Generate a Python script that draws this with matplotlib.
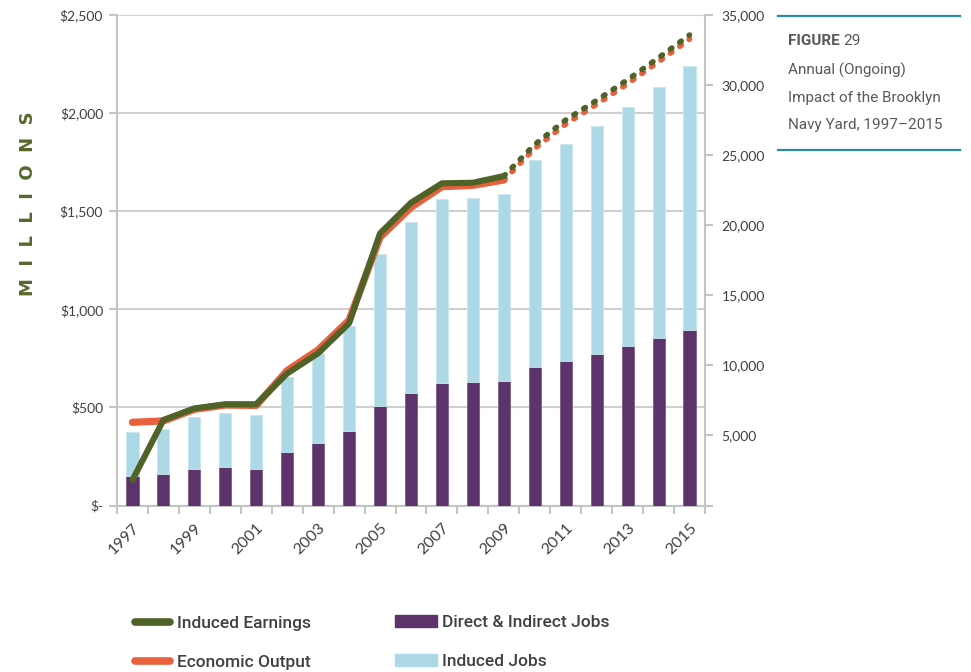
import matplotlib
matplotlib.use("Agg")
import matplotlib.pyplot as plt
from matplotlib.lines import Line2D
from matplotlib.patches import Rectangle
from matplotlib.ticker import FuncFormatter, FixedLocator
import numpy as np

# ---- data -------------------------------------------------------------
years = list(range(1997, 2016))
direct_indirect_jobs = [2130, 2250, 2580, 2730, 2630, 3800, 4480, 5320, 7100, 8050,
                        8760, 8790, 8880, 9880, 10290, 10830, 11360, 11930, 12520]
total_jobs = [5270, 5440, 6340, 6600, 6460, 9170, 10860, 12830, 17930, 20230,
              21870, 21960, 22210, 24680, 25820, 27080, 28440, 29860, 31360]
induced_jobs = [t - d for t, d in zip(total_jobs, direct_indirect_jobs)]

induced_earnings = [130, 436, 495, 516, 516, 673, 776, 929, 1387, 1543,
                    1642, 1645, 1679, 1840, 1965, 2065, 2170, 2282, 2398]
economic_output = [424, 431, 490, 512, 510, 688, 793, 945, 1367, 1520,
                   1625, 1632, 1659, 1820, 1944, 2045, 2150, 2262, 2377]
projection_start = 2009   # values after this year are drawn dotted

left_ticks = [0, 500, 1000, 1500, 2000, 2500]
right_ticks = [0, 5000, 10000, 15000, 20000, 25000, 30000, 35000]

# ---- styling ----------------------------------------------------------
GREEN = "#4f6228"
ORANGE = "#e8603c"
PURPLE = "#5c336b"
LIGHTBLUE = "#add8e6"
GRID = "#d0d0d0"
AXIS = "#c4c4c4"
TEXT = "#404040"
TITLE = "#595959"
TEAL = "#2a8aa8"
TICK_FONT = "Lato"
DISPLAY_FONT = "Roboto"

W, H = 971, 672
fig = plt.figure(figsize=(W / 100, H / 100), dpi=100)


def fx(px):
    return px / W


def fy(py):
    return 1 - py / H


pos = [fx(117), fy(505.5), fx(705) - fx(117), fy(15) - fy(505.5)]
x = np.arange(len(years))

# bottom layer: left ($M) scale with gridlines
ax = fig.add_axes(pos)
ax.set_xlim(-0.5, len(years) - 0.5)
ax.set_ylim(left_ticks[0], left_ticks[-1])
ax.yaxis.set_major_locator(FixedLocator(left_ticks))
ax.yaxis.set_major_formatter(FuncFormatter(lambda v, p: "$-" if v == 0 else f"${v:,.0f}"))
ax.grid(axis="y", color=GRID, linewidth=1.5)
ax.set_axisbelow(True)
for side in ("top", "right"):
    ax.spines[side].set_visible(False)
for side in ("left", "bottom"):
    ax.spines[side].set_color(AXIS)
    ax.spines[side].set_linewidth(1.5)
ax.tick_params(axis="y", colors=AXIS, length=6, width=1.5, pad=4,
               labelcolor=TEXT, labelsize=10)
for lab in ax.get_yticklabels():
    lab.set_fontfamily(TICK_FONT)

# category boundary ticks on the x axis, labels every other year
ax.set_xticks(x[::2])
ax.set_xticklabels([str(y) for y in years[::2]], rotation=45, ha="right",
                   rotation_mode="anchor", fontsize=11.5, color=TEXT,
                   fontfamily=TICK_FONT)
ax.set_xticks(np.arange(-0.5, len(years)), minor=True)
ax.tick_params(axis="x", which="major", length=0, pad=11)
ax.tick_params(axis="x", which="minor", length=6, width=1.5, color=AXIS)

# middle layer: right (jobs) scale with stacked bars
ax2 = ax.twinx()
ax2.set_ylim(right_ticks[0], right_ticks[-1])
ax2.yaxis.set_major_locator(FixedLocator(right_ticks))
ax2.yaxis.set_major_formatter(FuncFormatter(lambda v, p: "" if v == 0 else f"{v:,.0f}"))
for side in ("top", "left", "bottom"):
    ax2.spines[side].set_visible(False)
ax2.spines["right"].set_color(AXIS)
ax2.spines["right"].set_linewidth(1.5)
ax2.tick_params(axis="y", colors=AXIS, length=6, width=1.5, pad=6,
                labelcolor=TEXT, labelsize=10)
for lab in ax2.get_yticklabels():
    lab.set_fontfamily(TICK_FONT)

bw = 0.39
ax2.bar(x, direct_indirect_jobs, width=bw, color=PURPLE, edgecolor="#7d5e8a", linewidth=0.6)
ax2.bar(x, induced_jobs, width=bw, bottom=direct_indirect_jobs, color=LIGHTBLUE,
        edgecolor="#c9e6ef", linewidth=0.6)

# top layer: lines on the $M scale
ax3 = fig.add_axes(pos, sharex=ax, sharey=ax)
ax3.set_axis_off()
ax3.patch.set_visible(False)

k = years.index(projection_start)
dots = dict(linestyle=(0, (0.35, 1.75)), dash_capstyle="round", linewidth=4.0)
ax3.plot(x[:k + 1], economic_output[:k + 1], color=ORANGE, linewidth=5.2,
         solid_capstyle="round", solid_joinstyle="round")
ax3.plot(x[k:], economic_output[k:], color=ORANGE, **dots)
ax3.plot(x[:k + 1], induced_earnings[:k + 1], color=GREEN, linewidth=4.4,
         solid_capstyle="round", solid_joinstyle="round")
ax3.plot(x[k:], induced_earnings[k:], color=GREEN, **dots)

# vertical axis title
fig.text(fx(28), fy(204), "M  I  L  L  I  O  N  S", rotation=90, ha="center",
         va="center", fontsize=13, fontweight="bold", color="#55692e",
         fontfamily="DejaVu Sans")

# figure caption block
fig.add_artist(Line2D([fx(778), fx(960)], [fy(15.5), fy(15.5)], color=TEAL, linewidth=1.6))
fig.add_artist(Line2D([fx(778), fx(960)], [fy(150), fy(150)], color=TEAL, linewidth=1.6))
fig.text(fx(788), fy(45), "FIGURE", fontsize=11, fontweight="bold", color=TITLE,
         fontfamily=DISPLAY_FONT, va="baseline")
fig.text(fx(843), fy(45), "29", fontsize=11, color=TITLE,
         fontfamily=DISPLAY_FONT, va="baseline")
for text, base in [("Annual (Ongoing)", 75), ("Impact of the Brooklyn", 102),
                   ("Navy Yard, 1997\u20132015", 129)]:
    fig.text(fx(788), fy(base), text, fontsize=11, color=TITLE,
             fontfamily=DISPLAY_FONT, va="baseline")

# legend
for label, color, yc in [("Induced Earnings", GREEN, 622), ("Economic Output", ORANGE, 661)]:
    fig.add_artist(Line2D([fx(135), fx(170)], [fy(yc), fy(yc)], color=color,
                          linewidth=5.5, solid_capstyle="round"))
    fig.text(fx(177), fy(yc + 6), label, fontsize=12.5, color=TEXT,
             fontfamily=DISPLAY_FONT, fontweight="medium", va="baseline")
for label, color, yc in [("Direct & Indirect Jobs", PURPLE, 621), ("Induced Jobs", LIGHTBLUE, 660)]:
    fig.add_artist(Rectangle((fx(395), fy(yc + 6)), fx(42), 12 / H, color=color,
                             transform=fig.transFigure))
    fig.text(fx(442), fy(yc + 6), label, fontsize=12.5, color=TEXT,
             fontfamily=DISPLAY_FONT, fontweight="medium", va="baseline")

fig.savefig("out.png", dpi=100)
